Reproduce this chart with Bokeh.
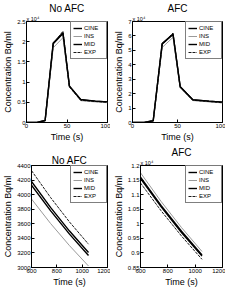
from bokeh.plotting import figure
from bokeh.layouts import column, row
from bokeh.models import Legend, LegendItem, FixedTicker, Title
from bokeh.embed import file_html
from bokeh.resources import INLINE

# ---- data ----
series_names = ["CINE", "INS", "MID", "EXP"]

time_top = [0, 13, 23, 33, 45, 53, 67, 85, 100]
noafc_top = {
    "CINE": [0, 0, 0.05, 1.95, 2.20, 0.90, 0.56, 0.53, 0.51],
    "INS":  [0, 0, 0.05, 1.85, 2.10, 0.88, 0.54, 0.51, 0.49],
    "MID":  [0, 0, 0.05, 1.97, 2.22, 0.90, 0.57, 0.53, 0.51],
    "EXP":  [0, 0, 0.05, 1.95, 2.26, 0.88, 0.55, 0.52, 0.50],
}
afc_top = {
    "CINE": [0, 0, 0.12, 5.45, 6.10, 2.47, 1.57, 1.47, 1.40],
    "INS":  [0, 0, 0.12, 5.20, 5.90, 2.42, 1.52, 1.43, 1.36],
    "MID":  [0, 0, 0.12, 5.47, 6.14, 2.48, 1.58, 1.48, 1.41],
    "EXP":  [0, 0, 0.12, 5.40, 6.20, 2.44, 1.54, 1.45, 1.37],
}

time_bot = [600, 750, 900, 1050]
noafc_bot = {
    "CINE": [4180, 3825, 3500, 3205],
    "INS":  [3940, 3605, 3300, 3020],
    "MID":  [4130, 3780, 3458, 3165],
    "EXP":  [4330, 3962, 3625, 3320],
}
afc_bot = {
    "CINE": [1.160, 1.063, 0.9745, 0.893],
    "INS":  [1.175, 1.077, 0.987, 0.905],
    "MID":  [1.155, 1.059, 0.970, 0.889],
    "EXP":  [1.140, 1.045, 0.958, 0.878],
}

styles = {
    "CINE": dict(line_color="black", line_width=1.4, line_dash="solid"),
    "INS":  dict(line_color="#9a9a9a", line_width=1.0, line_dash="solid"),
    "MID":  dict(line_color="black", line_width=1.4, line_dash="solid"),
    "EXP":  dict(line_color="black", line_width=0.9, line_dash="3 1"),
}

FONT = "Liberation Sans"


def make(title, xs, data, xr, yr, xticks, yticks, w, h, bl, bt, exp_label=None):
    p = figure(width=w, height=h, x_range=xr, y_range=yr, output_backend="svg",
               toolbar_location=None, min_border_left=bl, min_border_right=3,
               min_border_top=bt, min_border_bottom=2)
    p.title.visible = False
    p.xgrid.visible = False
    p.ygrid.visible = False
    p.outline_line_color = "black"
    p.outline_line_width = 1
    for ax in (p.xaxis[0], p.yaxis[0]):
        ax.major_tick_in = 3
        ax.major_tick_out = 0
        ax.minor_tick_in = 0
        ax.minor_tick_out = 0
        ax.axis_line_color = "black"
        ax.major_tick_line_color = "black"
        ax.major_label_text_font = FONT
        ax.major_label_text_font_size = "6px"
        ax.major_label_text_color = "black"
        ax.axis_label_text_font = FONT
        ax.axis_label_text_font_size = "9px"
        ax.axis_label_text_font_style = "normal"
        ax.axis_label_text_color = "black"
        ax.axis_label_standoff = 1
        ax.major_label_standoff = 1
    p.xaxis.axis_label = "Time (s)"
    p.yaxis.axis_label = "Concentration Bq/ml"
    p.xaxis.ticker = FixedTicker(ticks=xticks)
    p.yaxis.ticker = FixedTicker(ticks=yticks)
    items = []
    for name in series_names:
        r = p.line(xs, data[name], **styles[name])
        items.append(LegendItem(label=name, renderers=[r]))
    leg = Legend(items=items, location="top_right", margin=0, padding=2,
                 spacing=-3, glyph_width=9, glyph_height=8, label_standoff=2,
                 label_text_font=FONT, label_text_font_size="6px",
                 label_text_color="black",
                 border_line_color="black", border_line_width=1,
                 label_height=8)
    p.add_layout(leg)
    if exp_label:
        p.add_layout(Title(text=exp_label, align="left", text_font=FONT,
                           text_font_size="5.5px", text_font_style="normal",
                           text_color="black", offset=0, standoff=0), "above")
    p.add_layout(Title(text=title, align="center", text_font=FONT,
                       text_font_size="10px", text_font_style="normal",
                       text_color="black", offset=0, standoff=0), "above")
    return p


p1 = make("No AFC", time_top, noafc_top, (0, 100), (0, 2.5), [0, 50, 100],
          [0, 0.5, 1, 1.5, 2, 2.5], 110, 144, 22, 4, "x 10\u2074")
p2 = make("AFC", time_top, afc_top, (0, 100), (0, 7), [0, 50, 100],
          [0, 1, 2, 3, 4, 5, 6, 7], 115, 144, 22, 4, "x 10\u2074")
p3 = make("No AFC", time_bot, noafc_bot, (600, 1200), (3000, 4400),
          [600, 800, 1000, 1200], [3000, 3200, 3400, 3600, 3800, 4000, 4200, 4400],
          110, 145, 22, 4)
p4 = make("AFC", time_bot, afc_bot, (600, 1200), (0.85, 1.2),
          [600, 800, 1000, 1200], [0.85, 0.9, 0.95, 1.0, 1.05, 1.1, 1.15, 1.2],
          115, 145, 22, 4, "x 10\u2074")

layout = column(row(p1, p2), row(p3, p4))
open("out.html", "w").write(file_html(layout, INLINE))
